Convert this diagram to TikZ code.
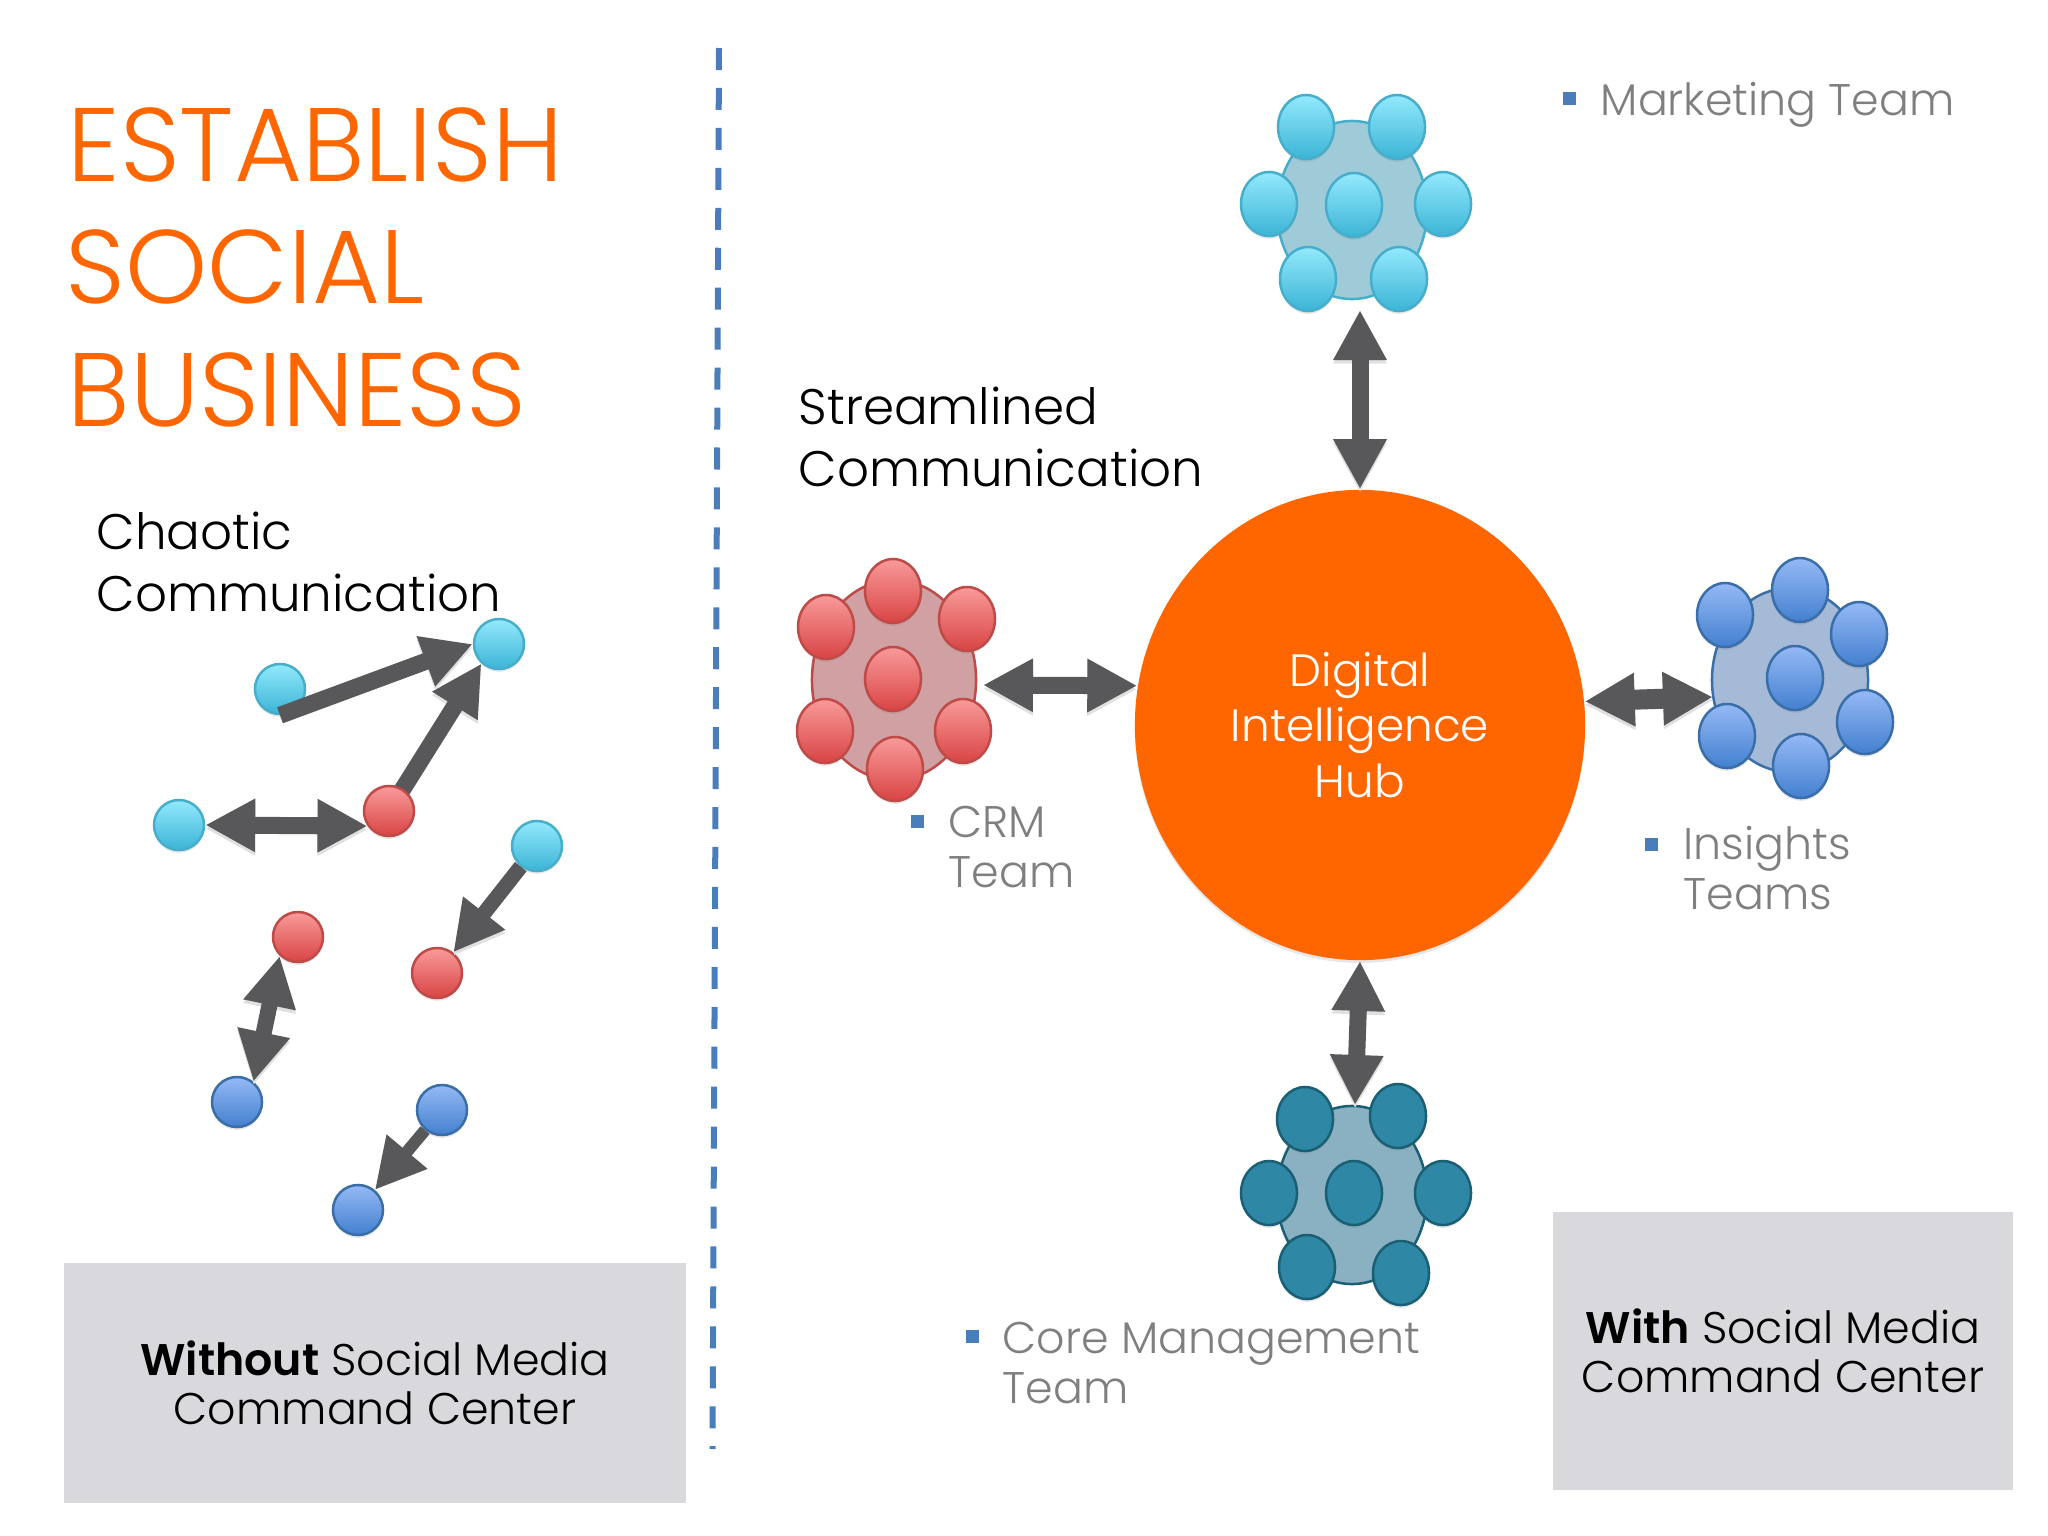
\documentclass[tikz,border=0pt]{standalone}
\usepackage{fontspec}
\setmainfont{Poppins}[UprightFont=* Light,BoldFont=* SemiBold]
\usetikzlibrary{arrows.meta,shapes.geometric,shadows,backgrounds}
\definecolor{hubor}{HTML}{FF6600}
\definecolor{arrowgr}{HTML}{58585A}
\definecolor{labelgr}{HTML}{7F7F7F}
\definecolor{boxgr}{HTML}{D9D8DC}
\definecolor{dashbl}{HTML}{4A7EBB}
\definecolor{cyantop}{HTML}{93E9FC}
\definecolor{cyanbot}{HTML}{3CB4D6}
\definecolor{cyanedge}{HTML}{46AECB}
\definecolor{cyanblob}{HTML}{9FCBD9}
\definecolor{redtop}{HTML}{F99A9A}
\definecolor{redbot}{HTML}{D94444}
\definecolor{rededge}{HTML}{BE4B48}
\definecolor{redblob}{HTML}{D0A0A2}
\definecolor{bluetop}{HTML}{95B9F5}
\definecolor{bluebot}{HTML}{4380CF}
\definecolor{blueedge}{HTML}{3A6EA9}
\definecolor{blueblob}{HTML}{A5BAD6}
\definecolor{tealfill}{HTML}{2E87A4}
\definecolor{tealedge}{HTML}{1A5F74}
\definecolor{tealblob}{HTML}{8AB1C1}

\begin{document}
\begin{tikzpicture}
  [x=0.01cm,y=-0.01cm,
   softshadow/.style={drop shadow={shadow xshift=0pt,shadow yshift=-.8pt,opacity=.2}},
   dot/.style={draw,ellipse,inner sep=0pt,line width=.025cm,softshadow},
   smalldot/.style={dot,minimum width=.5cm,minimum height=.5cm},
   bigdot/.style={dot,minimum width=.56cm,minimum height=.64cm},
   cyandot/.style={draw=cyanedge,top color=cyantop,bottom color=cyanbot},
   reddot/.style={draw=rededge,top color=redtop,bottom color=redbot},
   bluedot/.style={draw=blueedge,top color=bluetop,bottom color=bluebot},
   tealdot/.style={draw=tealedge,fill=tealfill},
   blob/.style={draw,ellipse,inner sep=0pt,line width=.025cm},
   fatarrow/.style={draw=arrowgr,line width=.17cm,preaction={draw=black!12,transform canvas={yshift=-1pt}}},
   oneway/.style={fatarrow,-{Triangle[length=.5cm,width=.5cm]}},
   twoway/.style={fatarrow,{Triangle[length=.5cm,width=.5cm]}-{Triangle[length=.5cm,width=.5cm]}},
   title/.style={anchor=base west,align=left,inner sep=0pt,text=hubor,font=\fontsize{29.7}{34.8}\selectfont},
   heading/.style={anchor=base west,align=left,inner sep=0pt,font=\fontsize{14.2}{17.4}\selectfont},
   teamlabel/.style={anchor=base west,align=left,inner sep=0pt,text=labelgr,font=\fontsize{12.6}{14}\selectfont},
   bulletbox/.style={fill=dashbl,minimum size=.13cm,inner sep=0pt},
   greybox/.style={fill=boxgr,align=center,inner sep=0pt,font=\fontsize{12.6}{13.9}\selectfont}
  ]
  \useasboundingbox (0,0) rectangle (2048,1536);

  % left side
  \node[title] (tl1) at (67,181) {ESTABLISH};
  \node[title] (tl2) at (65,303) {SOCIAL};
  \node[title] (tl3) at (67,426) {BUSINESS};
  \node[heading] (chaos) at (96,611) {Chaotic\\Communication};

  \draw[dashbl,line width=.06cm,dash pattern=on 6.26pt off 5.1pt] (719,48) -- (712.5,1449);

  \foreach \n/\x/\y/\c in {c1/280/689/cyandot,c2/499/644/cyandot,c3/179/825/cyandot,c4/537/846/cyandot,
      r1/389/811/reddot,r2/298/937/reddot,r3/437/973/reddot,
      b1/237/1102/bluedot,b2/442/1110/bluedot,b3/358/1210/bluedot}
    \node[smalldot,\c] (\n) at (\x,\y) {};

  \begin{pgfonlayer}{background}
    \draw[oneway] (r1.center) -- (c2.228);
  \end{pgfonlayer}
  \draw[oneway] (c1.south) -- (c2.west);
  \draw[twoway] (c3.east) -- (r1.215);
  \draw[oneway,line width=.15cm] (c4) -- (r3);
  \draw[twoway,line width=.16cm] (r2.226) -- (b1.51);
  \draw[oneway,line width=.12cm] (b2) -- (b3);

  \node[greybox,minimum width=6.21cm,minimum height=2.4cm] (without) at (375,1383)
    {\textbf{Without} Social Media\\Command Center};

  % right side
  \node[heading] (stream) at (798,486) {Streamlined\\Communication};
  \node[ellipse,fill=hubor,text=white,inner sep=0pt,minimum width=4.5cm,minimum height=4.7cm,align=center,
    font=\fontsize{12.9}{15.7}\selectfont,softshadow] (hub) at (1360,725) {Digital\\Intelligence\\Hub};

  % marketing
  \node[blob,draw=cyanedge,fill=cyanblob,minimum width=1.5cm,minimum height=1.78cm] (mkblob) at (1352,210) {};
  \foreach \n/\x/\y in {1/1306/127,2/1397/127,3/1269/204,4/1354/205,5/1443/204,6/1308/279,7/1399/279}
    \node[bigdot,cyandot] (mk\n) at (\x,\y) {};
  \coordinate (mktip) at (1360,310);
  \draw[twoway] (hub.north) -- (mktip);

  % crm
  \node[blob,draw=rededge,fill=redblob,minimum width=1.64cm,minimum height=2cm] (crmblob) at (894,680) {};
  \foreach \n/\x/\y in {1/893/591,2/826/627,3/967/619,4/893/679,5/825/731,6/963/731,7/895/769}
    \node[bigdot,reddot] (crm\n) at (\x,\y) {};
  \coordinate (crmtip) at (983,685);
  \draw[twoway] (hub.170) -- (crmtip);

  % insights
  \node[blob,draw=blueedge,fill=blueblob,minimum width=1.56cm,minimum height=1.84cm] (inblob) at (1790,680) {};
  \foreach \n/\x/\y in {1/1800/590,2/1725/615,3/1859/634,4/1795/678,5/1727/736,6/1865/722,7/1801/766}
    \node[bigdot,bluedot] (in\n) at (\x,\y) {};
  \coordinate (intip) at (1713,697);
  \draw[twoway,line width=.2cm] (hub.6) -- (intip);

  % core
  \node[blob,draw=tealedge,fill=tealblob,minimum width=1.5cm,minimum height=1.78cm] (coreblob) at (1352,1195) {};
  \foreach \n/\x/\y in {1/1305/1119,2/1398/1116,3/1269/1193,4/1354/1193,5/1443/1193,6/1307/1267,7/1401/1273}
    \node[bigdot,tealdot] (core\n) at (\x,\y) {};
  \coordinate (coretip) at (1355,1105);
  \draw[twoway] (hub.south) -- (coretip);

  % labels
  \node[bulletbox] (mkbul) at (1569,98) {};
  \node[teamlabel] (mklabel) at (1600,115) {Marketing Team};
  \node[bulletbox] (crmbul) at (917,821) {};
  \node[teamlabel] (crmlabel) at (948,887) {CRM\\Team};
  \node[bulletbox] (inbul) at (1651,844) {};
  \node[teamlabel] (inlabel) at (1683,909) {Insights\\Teams};
  \node[bulletbox] (corebul) at (972,1336) {};
  \node[teamlabel] (corelabel) at (1002,1403) {Core Management\\Team};

  \node[greybox,minimum width=4.6cm,minimum height=2.77cm] (with) at (1783,1351)
    {\textbf{With} Social Media\\Command Center};

\end{tikzpicture}
\end{document}
